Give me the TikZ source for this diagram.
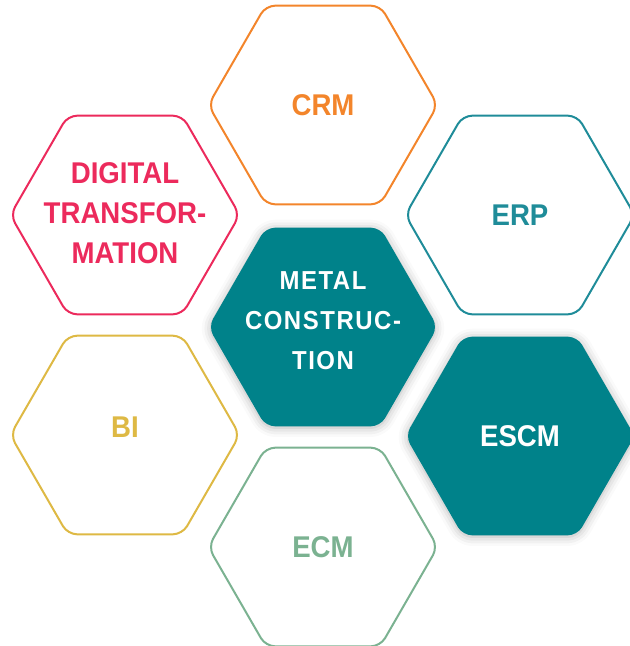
\documentclass[tikz,border=0pt]{standalone}
\usepackage{fontspec}
\setmainfont{Liberation Sans}[FakeStretch=0.92]
\newfontfamily\trackfont{Liberation Sans}[FakeStretch=0.92,LetterSpace=6]
\usetikzlibrary{shapes.geometric,shadows.blur}
\definecolor{crmorange}{HTML}{F3852B}
\definecolor{dtpink}{HTML}{EC2A5C}
\definecolor{erpteal}{HTML}{1F8C99}
\definecolor{coreteal}{HTML}{00828A}
\definecolor{biyellow}{HTML}{DEB944}
\definecolor{ecmgreen}{HTML}{7BB291}
\begin{document}
\begin{tikzpicture}[x=0.75pt,y=-0.75pt,
  hexcell/.style={regular polygon,regular polygon sides=6,minimum size=172pt,
    inner sep=0pt,rounded corners=7pt,line width=1.5pt},
  outlinecell/.style={hexcell,draw=#1,fill=white},
  corecell/.style={hexcell,fill=coreteal,
    blur shadow={shadow xshift=0pt,shadow yshift=-1pt,shadow blur radius=7pt,
      shadow opacity=30}},
  celltext/.style={align=center,inner sep=0pt,text=#1,
    font=\bfseries\fontsize{22.5}{30}\selectfont}]
\useasboundingbox (0,0) rectangle (630,646);
\clip (0,0) rectangle (630,646);
% outer ring
\node[outlinecell=crmorange,label={[celltext=crmorange]center:CRM}] (crm) at (323,105) {};
\node[outlinecell=dtpink,label={[celltext=dtpink,yshift=1pt]center:DIGITAL\\TRANSFOR-\\MATION}] (digital) at (125,215) {};
\node[outlinecell=erpteal,label={[celltext=erpteal]center:ERP}] (erp) at (520,215) {};
\node[outlinecell=biyellow,label={[celltext=biyellow,yshift=6pt]center:BI}] (bi) at (125,435) {};
\node[outlinecell=ecmgreen,label={[celltext=ecmgreen]center:ECM}] (ecm) at (323,547) {};
% filled cells
\node[corecell,label={[celltext=white]center:ESCM}] (escm) at (520,436) {};
\node[corecell,label={[celltext=white,yshift=4.5pt,
    font=\trackfont\bfseries\fontsize{19.5}{30}\selectfont]center:METAL\\CONSTRUC-\\TION}] (metal) at (323,327) {};
\end{tikzpicture}
\end{document}
